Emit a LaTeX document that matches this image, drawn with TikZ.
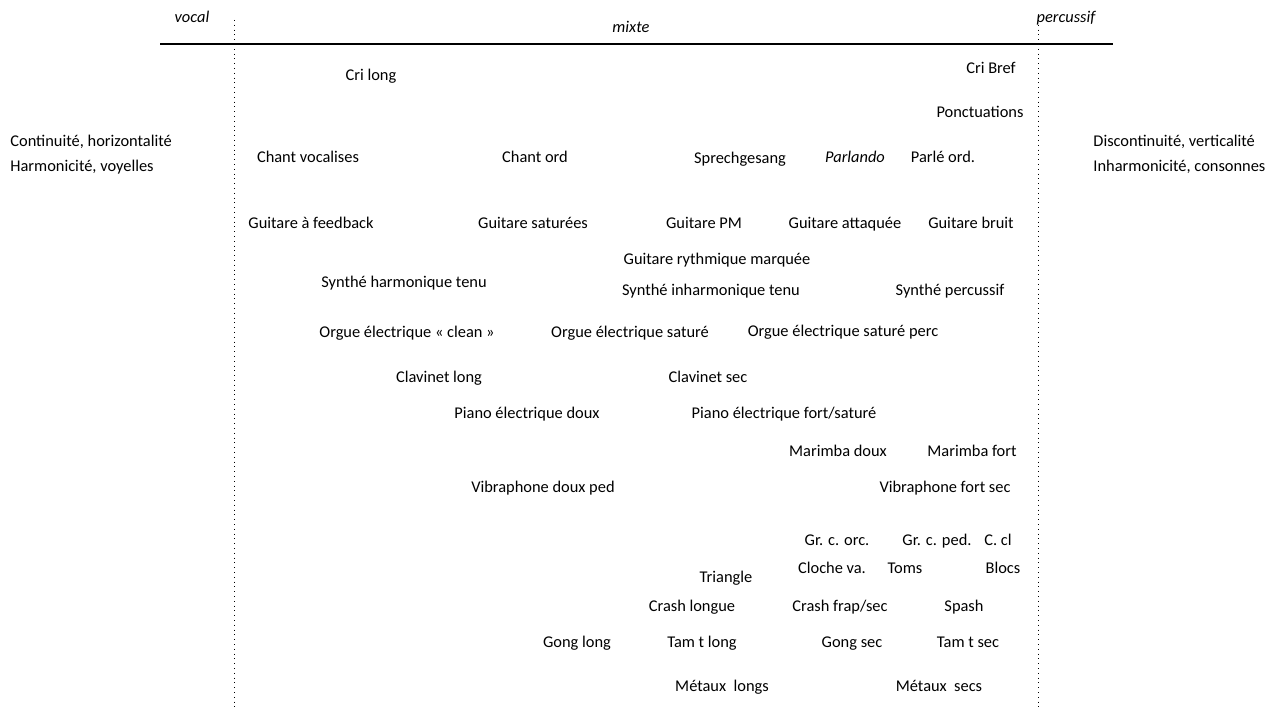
\documentclass[tikz,border=0pt]{standalone}
\usepackage{fontspec}
\setmainfont{Carlito}
\begin{document}
\begin{tikzpicture}[x=0.5pt,y=-0.5pt,
    lbl/.style={inner sep=0pt,text height=0.68em,text depth=0.2em,font=\fontsize{8.2}{10}\selectfont},
    lbli/.style={lbl,font=\fontsize{8.2}{10}\selectfont\itshape}]
  \useasboundingbox (0,0) rectangle (1279,711);
  % axis
  \draw[line width=0.7pt] (160,44) coordinate (axl) -- (1113,44) coordinate (axr);
  \draw[dotted,thin] (234,20) coordinate (vt) -- (234,711) coordinate (vb);
  \draw[dotted,thin] (1038,20) coordinate (pt) -- (1038,711) coordinate (pb);
  \node[lbli] (vocal) at (192,18) {vocal};
  \node[lbli] (mixte) at (631,28) {mixte};
  \node[lbli] (perc) at (1066,18) {percussif};
  % poles
  \node[lbl,anchor=west] (cont) at (10,142) {Continuité, horizontalité};
  \node[lbl,anchor=west] (harm) at (10,167) {Harmonicité, voyelles};
  \node[lbl,anchor=west] (disc) at (1093,142) {Discontinuité, verticalité};
  \node[lbl,anchor=west] (inharm) at (1093,167) {Inharmonicité, consonnes};
  % voix
  \node[lbl] (crilong) at (371,76) {Cri long};
  \node[lbl] (cribref) at (991,69) {Cri Bref};
  \node[lbl] (ponct) at (980,113) {Ponctuations};
  \node[lbl] (chvoc) at (308,158) {Chant vocalises};
  \node[lbl] (chord) at (535,158) {Chant ord};
  \node[lbl] (sprech) at (740,159) {Sprechgesang};
  \node[lbli] (parlando) at (855,158) {Parlando};
  \node[lbl] (parle) at (943,158) {Parlé ord.};
  % guitares
  \node[lbl] (gfeed) at (311,224) {Guitare à feedback};
  \node[lbl] (gsat) at (533,224) {Guitare saturées};
  \node[lbl] (gpm) at (704,224) {Guitare PM};
  \node[lbl] (gatt) at (845,224) {Guitare attaquée};
  \node[lbl] (gbruit) at (971,224) {Guitare bruit};
  \node[lbl] (grythm) at (717,260) {Guitare rythmique marquée};
  % claviers
  \node[lbl] (synharm) at (404,283) {Synthé harmonique tenu};
  \node[lbl] (syninh) at (711,291) {Synthé inharmonique tenu};
  \node[lbl] (synperc) at (950,291) {Synthé percussif};
  \node[lbl] (orgclean) at (407,333) {Orgue électrique « clean »};
  \node[lbl] (orgsat) at (630,333) {Orgue électrique saturé};
  \node[lbl] (orgperc) at (843,332) {Orgue électrique saturé perc};
  \node[lbl] (clavlong) at (439,378) {Clavinet long};
  \node[lbl] (clavsec) at (708,378) {Clavinet sec};
  \node[lbl] (pianodoux) at (527,414) {Piano électrique doux};
  \node[lbl] (pianofort) at (784,414) {Piano électrique fort/saturé};
  % claviers percussion
  \node[lbl] (marimdoux) at (838,452) {Marimba doux};
  \node[lbl] (marimfort) at (972,452) {Marimba fort};
  \node[lbl] (vibdoux) at (543,488) {Vibraphone doux ped};
  \node[lbl] (vibfort) at (945,488) {Vibraphone fort sec};
  % percussions
  \node[lbl] (grcorc) at (837,541) {Gr. c. orc.};
  \node[lbl] (grcped) at (937,541) {Gr. c. ped.};
  \node[lbl] (ccl) at (998,541) {C. cl};
  \node[lbl] (cloche) at (832,569) {Cloche va.};
  \node[lbl] (toms) at (905,569) {Toms};
  \node[lbl] (blocs) at (1003,569) {Blocs};
  \node[lbl] (triangle) at (726,578) {Triangle};
  \node[lbl] (crashl) at (692,607) {Crash longue};
  \node[lbl] (crashs) at (840,607) {Crash frap/sec};
  \node[lbl] (spash) at (964,607) {Spash};
  \node[lbl] (gongl) at (577,643) {Gong long};
  \node[lbl] (taml) at (702,643) {Tam t long};
  \node[lbl] (gongs) at (852,643) {Gong sec};
  \node[lbl] (tams) at (968,643) {Tam t sec};
  \node[lbl] (metl) at (722,687) {Métaux\ \ longs};
  \node[lbl] (mets) at (939,687) {Métaux\ \ secs};
\end{tikzpicture}
\end{document}
